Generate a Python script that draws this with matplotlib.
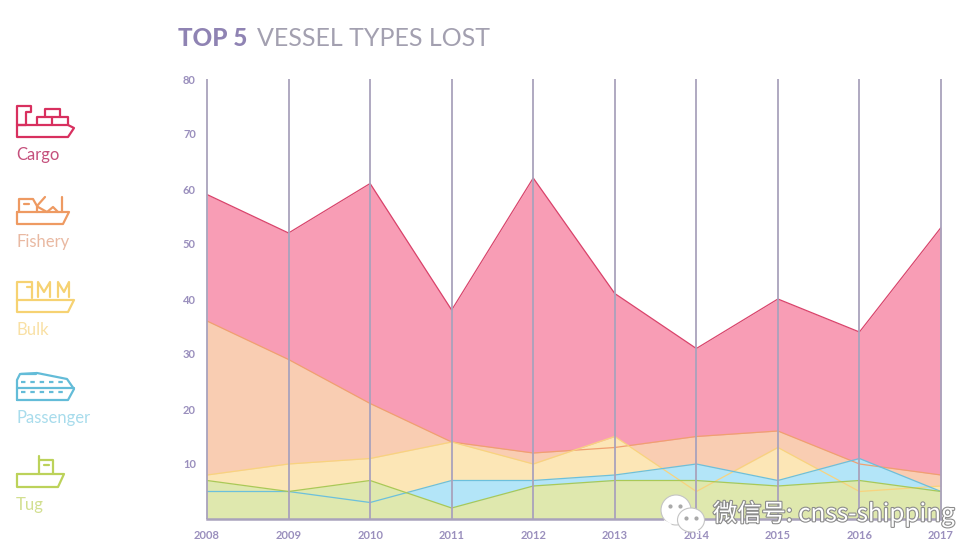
import matplotlib
matplotlib.use('Agg')
import matplotlib.pyplot as plt
import matplotlib.patheffects as pe
from matplotlib.patches import Ellipse, Polygon

plt.rcParams['font.family'] = ['Lato', 'DejaVu Sans']

years = [2008, 2009, 2010, 2011, 2012, 2013, 2014, 2015, 2016, 2017]
y_ticks = [10, 20, 30, 40, 50, 60, 70, 80]

cargo = [59, 52, 61, 38, 62, 41, 31, 40, 34, 53]
fishery = [36, 29, 21, 14, 12, 13, 15, 16, 10, 8]
bulk = [8, 10, 11, 14, 10, 15, 5, 13, 5, 6]
passenger = [5, 5, 3, 7, 7, 8, 10, 7, 11, 5]
tug = [7, 5, 7, 2, 6, 7, 7, 6, 7, 5]

names = ['Cargo', 'Fishery', 'Bulk', 'Passenger', 'Tug']
series = [cargo, fishery, bulk, passenger, tug]
fill_colors = ['#f89db5', '#f9cdb2', '#fce6b6', '#b3e5f8', '#dfe8ae']
line_colors = ['#d9436b', '#f0a070', '#f8d37e', '#6cc0dc', '#a9c957']
icon_colors = ['#d8305f', '#ee9a62', '#f6d272', '#63bcd8', '#bcd25a']
label_colors = ['#c5507c', '#e9b9a2', '#f9e0a4', '#a8dcec', '#d2df90']
label_y = [155, 242, 330, 418, 505]

PURPLE = '#9a8fbd'
GRID = '#a9a2bc'
W, H = 969, 551

fig = plt.figure(figsize=(W / 100, H / 100), dpi=100, facecolor='white')
ax = fig.add_axes([207 / W, 1 - 519 / H, (941 - 207) / W, (519 - 79) / H])

# opaque areas, not stacked, biggest at the back
for values, color in zip(series, fill_colors):
    ax.fill_between(years, 0, values, color=color, lw=0, zorder=1)
for values, color in zip(series, line_colors):
    ax.plot(years, values, color=color, lw=0.9, zorder=2)

ax.vlines(years, 0, 80, color=GRID, lw=1.3, zorder=3, clip_on=False)
ax.axhline(0, color=GRID, lw=1.8, zorder=3, clip_on=False)

ax.set_xlim(2008, 2017)
ax.set_ylim(0, 80)
ax.set_xticks(years)
ax.set_yticks(y_ticks)
ax.tick_params(length=0, labelsize=8, labelcolor=PURPLE)
ax.tick_params(axis='x', pad=8)
ax.tick_params(axis='y', pad=8)
for lab in ax.get_xticklabels() + ax.get_yticklabels():
    lab.set_fontweight('bold')
for s in ax.spines.values():
    s.set_visible(False)

# overlay in pixel coordinates for title, icons, watermark
ov = fig.add_axes([0, 0, 1, 1], zorder=5)
ov.set_xlim(0, W)
ov.set_ylim(H, 0)
ov.axis('off')
ov.patch.set_alpha(0)

ov.text(178, 39, 'TOP 5', fontsize=17.5, fontweight='black', color='#8f83b3', va='center')
ov.text(257, 39, 'VESSEL TYPES LOST', fontsize=18, color='#a3a0b0', va='center')


def draw_lines(parts, color, lw=1.6):
    for pts in parts:
        xs, ys = zip(*pts)
        ov.plot(xs, ys, color=color, lw=lw, solid_joinstyle='round', solid_capstyle='round')


icons = [
    [[(17, 125), (68, 125), (74, 128), (68, 137), (17, 137), (17, 106), (31, 106), (31, 112), (26, 112), (26, 125)],
     [(17, 125), (26, 125)],
     [(37, 125), (37, 117), (68, 117), (68, 125)],
     [(52, 117), (52, 125)],
     [(45, 117), (45, 109), (60, 109), (60, 117)]],
    [[(17, 212), (69, 212), (63, 224), (17, 224), (17, 212)],
     [(19, 212), (19, 199), (33, 199), (37, 206), (37, 212)],
     [(24, 204), (29, 204)],
     [(37, 206), (45, 197)],
     [(38, 207), (47, 212), (53, 207), (58, 212)],
     [(62, 197), (62, 212)]],
    [[(17, 300), (74, 300), (68, 312), (17, 312), (17, 300)],
     [(17, 300), (17, 282), (32, 282), (32, 298)],
     [(27, 287), (31, 287)],
     [(38, 297), (38, 282), (44, 292), (50, 282), (50, 297)],
     [(58, 297), (58, 282), (64, 292), (69, 282), (69, 297)]],
    [[(17, 400), (17, 380), (20, 374), (37, 373), (67, 379), (74, 389), (68, 400), (17, 400)],
     [(17, 388), (74, 388)],
     [(21, 374), (36, 374)]],
    [[(17, 474), (64, 474), (58, 487), (17, 487), (17, 474)],
     [(39, 474), (39, 456)],
     [(39, 460), (53, 460), (53, 474)],
     [(44, 465), (49, 465)]],
]
for parts, color in zip(icons, icon_colors):
    draw_lines(parts, color)

# passenger windows
for wy in (382, 392):
    ov.plot([21, 65], [wy, wy], color=icon_colors[3], lw=1.6, dashes=(2, 2.2))

for name, y, color in zip(names, label_y, label_colors):
    ov.text(16, y, name, fontsize=12, color=color, va='center')

# watermark
shadow = [pe.withStroke(linewidth=1.6, foreground='#8c8c8c')]
ov.text(713, 514, '微信号: cnss-shipping', fontsize=17.5, color='white',
        family=['Noto Sans CJK SC', 'DejaVu Sans'], va='center', path_effects=shadow, zorder=10)
for cx, cy, w, h in [(676, 510, 30, 30), (691, 520, 27, 24)]:
    ov.add_patch(Ellipse((cx, cy), w, h, fc='white', ec='#c4c4c4', lw=0.8, zorder=9))
ov.add_patch(Polygon([(664, 520), (665, 530), (672, 524)], fc='white', ec='none', zorder=9))
ov.add_patch(Polygon([(697, 528), (700, 534), (691, 530)], fc='white', ec='none', zorder=9))
ov.plot([670, 680, 686, 696], [506, 506, 518, 518], 'o', ms=2, color='#a9a9a9', zorder=10)

fig.savefig('out.png', dpi=100)
